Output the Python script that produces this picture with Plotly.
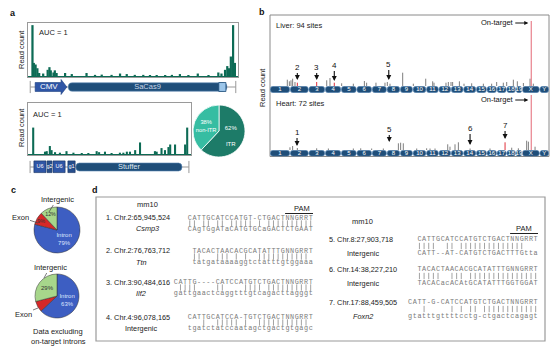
import plotly.graph_objects as go

W, H = 554, 352
SANS = "Liberation Sans"
MONO = "Liberation Mono"
GREEN = "#0d6b55"
NAVY = "#1f4e79"
ROYAL = "#2f56a6"

def fx(px): return px / W
def fy(py): return 1 - py / H

# ---------------- Panel a data (vector position in kb, normalised read count) ----------------
a1_pos = [0.10,0.13,0.17,0.21,0.25,0.34,0.44,0.48,0.51,0.57,0.60,0.64,0.83,0.98,1.31,1.50,1.65,1.87,2.06,2.21,
          2.39,2.58,2.73,2.88,3.07,3.22,3.40,3.59,3.80,4.04,4.26,4.33,4.41,4.46,4.50,4.54,4.59,4.63]
a1_cnt = [96,25,22,15,6,5,12,17,11,7,11,6,6,4,6,2.5,3,2.5,5,4,
          2.5,2.5,2,2,2,2.5,4,2,5,2,7,5,12,19,15,37,96,25]
a2_pos = [0.15,0.49,0.54,0.63,0.68,0.78,0.92,1.11,1.31,1.55,1.74,1.98,2.05,2.22,2.41,2.65,2.75,2.85,2.94,3.09,
          3.23,3.66,3.71,3.85,3.95,4.05,4.10,4.24,4.53,4.59]
a2_cnt = [52,5,6,16,8,4,3,6,3,2,1,6,4,5,2,3,3,5,5,8,23,6,5,12,8,14,19,19,19,52]

a1_feat_names = ["CMV", "SaCas9"]
a1_feat_start = [0.16, 0.90]
a1_feat_end = [0.87, 4.45]
a1_nls = [4.27, 4.43]
a1_span = [0.05, 4.65]
a2_feat_names = ["U6", "g2", "U6", "g1", "Stuffer"]
a2_feat_start = [0.17, 0.55, 0.72, 1.15, 1.38]
a2_feat_end = [0.52, 0.69, 1.07, 1.36, 4.44]
a2_span = [0.06, 4.64]

itr_labels = ["ITR", "non-ITR"]
itr_values = [62, 38]

# ---------------- Panel b data (mm10, Mb) ----------------
chrom_names = ["1","2","3","4","5","6","7","8","9","10","11","12","13","14","15","16","17","18","19","X","Y"]
chrom_len = [195.5,182.1,160.0,156.5,151.8,149.7,145.4,129.4,124.6,130.7,122.1,120.1,120.4,124.9,104.0,98.2,
             95.0,90.7,61.4,171.0,91.7]

liver_pos = [169,189,205,221,244,554,586,700,814,922,944,1035,1123,1146,1172,1296,1400,1521,1589,1602,
             1719,1742,1768,1784,1850,1895,1970,2084,2165,2214,2279,2312,2377,2416,2475,2540,2572]
liver_h = [6.3,4.7,5.7,7.3,4,5.7,8,2.7,2.3,5,3.3,3.3,3.3,4,2.3,13.3,2.3,7.3,4.7,3.3,
           3.3,4,4,4,4.7,2.3,2.7,2.3,2.3,4,3.3,4,6.3,4.7,3,7.3,2.3]
liver_red_pos = [267, 456, 628]
liver_red_h = [3.3, 4, 3.3]
heart_pos = [195,221,267,456,570,814,886,993,1107,1254,1276,1302,1433,1530,1563,1612,1736,1758,1807,1840,
             1954,2149,2361,2426,2507,2524,2589]
heart_h = [2.7,4,2,1.7,1.5,1.5,1.7,1.5,1.5,6.7,7.3,6.7,1.5,1.7,1.5,1.5,5.7,3.3,5.7,7.7,
           1.5,1.5,2.3,1.7,9.3,8.3,3.3]
heart_red_pos = [2296]
heart_red_h = [7.7]
on_target_pos = 2552
liver_on_h = 65
heart_on_h = 55

liver_site_lab = ["2", "3", "4", "5"]
liver_site_pos = [267, 456, 628, 1160]
liver_site_tip = [6, 6, 5, 6]
heart_site_lab = ["1", "5", "6", "7"]
heart_site_pos = [264, 1165, 1954, 2296]
heart_site_tip = [4, 8, 5, 11]

# ---------------- Panel c data ----------------
region_labels = ["Intron", "Exon", "Intergenic"]
c1_values = [79, 9, 12]
c2_values = [63, 8, 29]

# ---------------- Panel d data ----------------
left_sites = ["1. Chr.2:65,945,524", "2. Chr.2:76,763,712", "3. Chr.3:90,484,616", "4. Chr.4:96,078,165"]
left_genes = ["<i>Csmp3</i>", "<i>Ttn</i>", "<i>Ilf2</i>", "Intergenic"]
left_guide = ["CATTGCATCCATGT-CTGACTNNGRRT", "TACACTAACACGCATATTTGNNGRRT",
              "CATTG----CATCCATGTCTGACTNNGRRT", "CATTGCATCCA-TGTCTGACTNNGRRT"]
left_genome = ["CAgTGgATaCATGTGCaGACTCTGAAT", "tatgataaaaggtctatttgtggaaa",
               "gattgaactcaggtttgtcagacttagggt", "tgatctatccaatagctgactgtgagc"]
right_sites = ["5. Chr.8:27,903,718", "6. Chr.14:38,227,210", "7. Chr.17:88,459,505"]
right_genes = ["Intergenic", "Intergenic", "<i>Foxn2</i>"]
right_guide = ["CATTGCATCCATGTCTGACTNNGRRT", "TACACTAACACGCATATTTGNNGRRT", "CATT-G-CATCCATGTCTGACTNNGRRT"]
right_genome = ["CATT--AT-CATGTCTGACTTTGtta", "TACACacACAtGCATATTTGGTGGAT", "gtatttgttttcctg-ctgactcagagt"]

IUPAC = {"N": "ACGT", "R": "AG"}
def matches(a, b):
    out = []
    for x, y in zip(a.upper(), b.upper()):
        out.append(x != "-" and y != "-" and y in IUPAC.get(x, x))
    return out

# ---------------- figure ----------------
fig = go.Figure()
ann = []
shapes = []

def txt(x, y, s, size=7.5, color="#222", xanchor="center", **kw):
    d = dict(x=fx(x), y=fy(y), xref="paper", yref="paper", text=s, showarrow=False,
             font=dict(family=SANS, size=size, color=color), xanchor=xanchor, yanchor="middle")
    d.update(kw)
    ann.append(d)

def pill(x0, x1, y0, y1, rx):
    ym = (y0 + y1) / 2
    return (f"M{x0+rx},{y0} L{x1-rx},{y0} Q{x1},{y0} {x1},{ym} Q{x1},{y1} {x1-rx},{y1} "
            f"L{x0+rx},{y1} Q{x0},{y1} {x0},{ym} Q{x0},{y0} {x0+rx},{y0} Z")

# ---- a: histograms
fig.add_trace(go.Bar(x=a1_pos, y=a1_cnt, width=0.05, marker=dict(color=GREEN, line=dict(width=0)),
                     xaxis="x", yaxis="y", hoverinfo="skip", showlegend=False))
fig.add_trace(go.Bar(x=a2_pos, y=a2_cnt, width=0.06, marker=dict(color=GREEN, line=dict(width=0)),
                     xaxis="x3", yaxis="y3", hoverinfo="skip", showlegend=False))

# ---- a: vector maps
def backbone(xr, yr, span):
    shapes.append(dict(type="line", xref=xr, yref=yr, x0=span[0], x1=span[1], y0=0.5, y1=0.5,
                       line=dict(color="#999", width=1), layer="below"))
    for s in span:
        shapes.append(dict(type="line", xref=xr, yref=yr, x0=s, x1=s, y0=0.12, y1=0.88,
                           line=dict(color="#999", width=1), layer="below"))

backbone("x2", "y2", a1_span)
cs, ce = a1_feat_start[0], a1_feat_end[0]
head = 0.13
shapes.append(dict(type="path", xref="x2", yref="y2", layer="below",
                   path=f"M{cs},0.22 L{ce-head},0.22 L{ce-head},0.03 L{ce},0.5 L{ce-head},0.97 L{ce-head},0.78 L{cs},0.78 Z",
                   fillcolor=ROYAL, line=dict(color="#1d3f80", width=0.6)))
shapes.append(dict(type="path", xref="x2", yref="y2", layer="below",
                   path=pill(a1_feat_start[1], a1_feat_end[1], 0.24, 0.76, 0.09),
                   fillcolor=NAVY, line=dict(color="#5b86b3", width=0.6)))
shapes.append(dict(type="rect", xref="x2", yref="y2", layer="below", x0=a1_nls[0], x1=a1_nls[1],
                   y0=0.22, y1=0.78, fillcolor="#9cc6ea", line=dict(color=NAVY, width=0.8)))
fig.add_trace(go.Scatter(x=[(s + e) / 2 - (0.05 if i == 0 else 0) for i, (s, e) in enumerate(zip(a1_feat_start, a1_feat_end))],
                         y=[0.5, 0.5], mode="text", text=a1_feat_names,
                         textfont=dict(family=SANS, size=[8, 7.5], color=["white", "#c9d6e8"]),
                         xaxis="x2", yaxis="y2", hoverinfo="skip", showlegend=False))

backbone("x4", "y4", a2_span)
for i, (s, e) in enumerate(zip(a2_feat_start, a2_feat_end)):
    if a2_feat_names[i] == "Stuffer":
        shapes.append(dict(type="path", xref="x4", yref="y4", layer="below",
                           path=pill(s, e, 0.25, 0.75, 0.1), fillcolor=NAVY,
                           line=dict(color="#5b86b3", width=0.6)))
    else:
        col = ROYAL if a2_feat_names[i] == "U6" else "#274e8c"
        shapes.append(dict(type="rect", xref="x4", yref="y4", layer="below", x0=s, x1=e, y0=0.15, y1=0.88,
                           fillcolor=col, line=dict(color="#16315e", width=0.6)))
fig.add_trace(go.Scatter(x=[(s + e) / 2 for s, e in zip(a2_feat_start, a2_feat_end)],
                         y=[0.5] * len(a2_feat_names), mode="text", text=a2_feat_names,
                         textfont=dict(family=SANS, size=[5.5, 5.5, 5.5, 5.5, 7.5],
                                       color=["white"] * 4 + ["#dfe7f2"]),
                         xaxis="x4", yaxis="y4", hoverinfo="skip", showlegend=False))

# ---- a: ITR pie
fig.add_trace(go.Pie(labels=itr_labels, values=itr_values, sort=False, direction="clockwise", rotation=0,
                     marker=dict(colors=["#1d7b68", "#36bda2"], line=dict(color="white", width=0.8)),
                     text=["62%<br><br>ITR", "38%<br>non-ITR"], textinfo="text", textposition="inside",
                     insidetextorientation="horizontal",
                     textfont=dict(family=SANS, size=6, color="white"),
                     domain=dict(x=[fx(193), fx(245)], y=[fy(157), fy(105)]),
                     hoverinfo="skip", showlegend=False))

# ---- b: genome-wide read counts
starts = []
acc = 0
for L in chrom_len:
    starts.append(acc)
    acc += L
genome_total = acc
centers = [s + L / 2 for s, L in zip(starts, chrom_len)]

def spikes(pos, h, xr, yr, color, width):
    xs, ys = [], []
    for p, v in zip(pos, h):
        xs += [p, p, None]
        ys += [0, v, None]
    fig.add_trace(go.Scatter(x=xs, y=ys, mode="lines", line=dict(color=color, width=width),
                             xaxis=xr, yaxis=yr, hoverinfo="skip", showlegend=False))

spikes(liver_pos, liver_h, "x5", "y5", "#6f6f6f", 0.9)
spikes(liver_red_pos, liver_red_h, "x5", "y5", "#e0303a", 1)
spikes([on_target_pos], [liver_on_h], "x5", "y5", "#e8808c", 1.2)
spikes(heart_pos, heart_h, "x6", "y6", "#6f6f6f", 0.9)
spikes(heart_red_pos, heart_red_h, "x6", "y6", "#e0303a", 1)
spikes([on_target_pos], [heart_on_h], "x6", "y6", "#e8808c", 1.2)

for xr, yr in (("x7", "y7"), ("x8", "y8")):
    for s, L in zip(starts, chrom_len):
        shapes.append(dict(type="path", xref=xr, yref=yr, layer="below",
                           path=pill(s + 2.5, s + L - 2.5, 0.04, 0.96, min(28, L / 3)),
                           fillcolor=NAVY, line=dict(color="#6d98c4", width=0.6)))
    fig.add_trace(go.Scatter(x=centers, y=[0.5] * len(centers), mode="text", text=chrom_names,
                             textfont=dict(family=SANS, size=6, color="white"),
                             xaxis=xr, yaxis=yr, hoverinfo="skip", showlegend=False))

ay_liver = [-13, -13, -16, -16]
ay_heart = [-14, -13, -17, -14]
for lab, p, t, ay in zip(liver_site_lab, liver_site_pos, liver_site_tip, ay_liver):
    ann.append(dict(x=p, y=t, xref="x5", yref="y5", text=lab, showarrow=True, arrowhead=2, arrowsize=0.9,
                    arrowwidth=1.1, arrowcolor="#111", ax=0, ay=ay, font=dict(family=SANS, size=8, color="#111")))
for lab, p, t, ay in zip(heart_site_lab, heart_site_pos, heart_site_tip, ay_heart):
    ann.append(dict(x=p, y=t, xref="x6", yref="y6", text=lab, showarrow=True, arrowhead=2, arrowsize=0.9,
                    arrowwidth=1.1, arrowcolor="#111", ax=0, ay=ay, font=dict(family=SANS, size=8, color="#111")))
ann.append(dict(x=on_target_pos, y=63, xref="x5", yref="y5", text="On-target", showarrow=True, arrowhead=2,
                arrowsize=0.8, arrowwidth=1, arrowcolor="#111", ax=-34, ay=0, standoff=3,
                font=dict(family=SANS, size=7.5, color="#111")))
ann.append(dict(x=on_target_pos, y=50, xref="x6", yref="y6", text="On-target", showarrow=True, arrowhead=2,
                arrowsize=0.8, arrowwidth=1, arrowcolor="#111", ax=-34, ay=0, standoff=3,
                font=dict(family=SANS, size=7.5, color="#111")))

shapes.append(dict(type="rect", xref="paper", yref="paper", x0=fx(270), x1=fx(549), y0=fy(156.5), y1=fy(15),
                   line=dict(color="#8a8a8a", width=1), layer="below"))
txt(274, 26, "Liver: 94 sites", size=7.5, xanchor="left")
txt(274, 103, "Heart: 72 sites", size=7.5, xanchor="left")
txt(262, 88, "Read count", size=7.5, textangle=-90)

# ---- c: pies
pie_colors = ["#3d5ec2", "#d62828", "#a7d68b"]
fig.add_trace(go.Pie(labels=region_labels, values=c1_values, sort=False, direction="clockwise", rotation=0,
                     marker=dict(colors=pie_colors, line=dict(color="#333", width=0.5)),
                     text=["Intron<br>79%", "9%", "12%"], textinfo="text", textposition="inside",
                     insidetextorientation="horizontal",
                     textfont=dict(family=SANS, size=6, color=["#dfe6ff", "#333", "#333"]),
                     domain=dict(x=[fx(34), fx(80)], y=[fy(253), fy(207)]),
                     hoverinfo="skip", showlegend=False))
fig.add_trace(go.Pie(labels=region_labels, values=c2_values, sort=False, direction="clockwise", rotation=0,
                     marker=dict(colors=pie_colors, line=dict(color="#333", width=0.5)),
                     text=["Intron<br>63%", "", "29%"], textinfo="text", textposition="inside",
                     insidetextorientation="horizontal",
                     textfont=dict(family=SANS, size=6, color=["#dfe6ff", "#333", "#333"]),
                     domain=dict(x=[fx(35), fx(79)], y=[fy(318), fy(274)]),
                     hoverinfo="skip", showlegend=False))

def leader(tipx, tipy, s, ax, ay):
    ann.append(dict(x=fx(tipx), y=fy(tipy), xref="paper", yref="paper", text=s, showarrow=True,
                    arrowhead=0, arrowwidth=0.7, arrowcolor="#444", ax=ax, ay=ay,
                    font=dict(family=SANS, size=7.5, color="#222")))

leader(49, 212, "Intergenic", 8, -13)
leader(38, 223, "Exon", -18, -6)
leader(44, 278, "Intergenic", 6, -11)
leader(38, 308, "Exon", -15, 6)
txt(58, 331, "Data excluding", size=7.5)
txt(58, 341, "on-target introns", size=7.5)

# ---- d: off-target alignments
shapes.append(dict(type="rect", xref="paper", yref="paper", x0=fx(96), x1=fx(545), y0=fy(341), y1=fy(197),
                   line=dict(color="#9a9a9a", width=1.2), layer="below"))
txt(147, 204, "mm10", size=7.5)
txt(362, 221, "mm10", size=7.5)

CW = 4.65
seq_x, seq_y, seq_c = [], [], []
bar_x, bar_y = [], []

def block(right, y_top, gap, guide, genome):
    n = len(guide)
    for i, (a, b) in enumerate(zip(guide, genome)):
        xc = right - (n - i - 0.5) * CW
        seq_x.extend([xc, xc]); seq_y.extend([y_top, y_top + 2 * gap]); seq_c.extend([a, b])
    for i, m in enumerate(matches(guide, genome)):
        if m:
            bar_x.append(right - (n - i - 0.5) * CW)
            bar_y.append(y_top + gap)

left_rows = [218, 251, 282, 317]
left_gene_y = [229, 262, 293, 328]
for k in range(4):
    txt(104, left_rows[k], left_sites[k], size=7.3, xanchor="left")
    txt(141 if k else 147, left_gene_y[k], left_genes[k], size=7.3)
    block(313, left_rows[k], 5.5, left_guide[k], left_genome[k])
right_rows = [239, 269, 302]
for k in range(3):
    txt(327, right_rows[k], right_sites[k], size=7.3, xanchor="left")
    txt(363, right_rows[k] + 14, right_genes[k], size=7.3)
    block(538, right_rows[k], 7, right_guide[k], right_genome[k])

txt(302, 208, "PAM", size=7.5)
txt(524, 228, "PAM", size=7.5)
shapes.append(dict(type="line", xref="paper", yref="paper", x0=fx(313 - 6 * CW), x1=fx(313), y0=fy(213.5), y1=fy(213.5),
                   line=dict(color="#222", width=1)))
shapes.append(dict(type="line", xref="paper", yref="paper", x0=fx(538 - 6 * CW), x1=fx(538), y0=fy(233.5), y1=fy(233.5),
                   line=dict(color="#222", width=1)))

fig.add_trace(go.Scatter(x=seq_x, y=seq_y, mode="text", text=seq_c,
                         textfont=dict(family=MONO, size=6.8, color="#7a7a7a"),
                         xaxis="x9", yaxis="y9", hoverinfo="skip", showlegend=False))
fig.add_trace(go.Scatter(x=bar_x, y=bar_y, mode="markers",
                         marker=dict(symbol="line-ns", size=4.5, line=dict(color="#8a8a8a", width=0.8)),
                         xaxis="x9", yaxis="y9", hoverinfo="skip", showlegend=False))

# ---- panel letters and a labels
txt(13, 13, "<b>a</b>", size=9, color="#111")
txt(262, 12, "<b>b</b>", size=9, color="#111")
txt(13, 190, "<b>c</b>", size=9, color="#111")
txt(95, 190, "<b>d</b>", size=9, color="#111")
txt(37, 32, "AUC = 1", size=7.5, xanchor="left")
txt(31, 114, "AUC = 1", size=7.5, xanchor="left")
txt(21, 50, "Read count", size=7.5, textangle=-90)
txt(21, 128, "Read count", size=7.5, textangle=-90)

# ---------------- axes ----------------
def hid(domain, rng, anchor):
    return dict(domain=domain, range=rng, anchor=anchor, visible=False, showgrid=False, zeroline=False,
                fixedrange=True)

def framed_x(domain, anchor):
    return dict(domain=domain, range=[0, 4.7], anchor=anchor, showline=True, mirror=True, linecolor="#9a9a9a",
                linewidth=1, showticklabels=False, ticks="", showgrid=False, zeroline=False)

def framed_y(domain, anchor):
    return dict(domain=domain, range=[-1.5, 100], anchor=anchor, showline=True, mirror=True, linecolor="#9a9a9a",
                linewidth=1, showticklabels=False, ticks="", showgrid=False, zeroline=True,
                zerolinecolor=GREEN, zerolinewidth=1)

bx = [fx(270), fx(549)]
fig.update_layout(
    width=W, height=H, margin=dict(l=0, r=0, t=0, b=0),
    paper_bgcolor="white", plot_bgcolor="rgba(0,0,0,0)",
    font=dict(family=SANS, size=8, color="#222"),
    showlegend=False, barmode="overlay",
    xaxis=framed_x([fx(28), fx(238)], "y"),
    yaxis=framed_y([fy(77), fy(23)], "x"),
    xaxis2=hid([fx(28), fx(238)], [0, 4.7], "y2"),
    yaxis2=hid([fy(95), fy(79)], [0, 1], "x2"),
    xaxis3=framed_x([fx(28), fx(191)], "y3"),
    yaxis3=framed_y([fy(155), fy(103)], "x3"),
    xaxis4=hid([fx(28), fx(191)], [0, 4.7], "y4"),
    yaxis4=hid([fy(175), fy(159)], [0, 1], "x4"),
    xaxis5=hid(bx, [0, genome_total], "y5"),
    yaxis5=hid([fy(86), fy(19)], [0, 67], "x5"),
    xaxis6=hid(bx, [0, genome_total], "y6"),
    yaxis6=hid([fy(150), fy(93)], [0, 57], "x6"),
    xaxis7=hid(bx, [0, genome_total], "y7"),
    yaxis7=hid([fy(93), fy(86)], [0, 1], "x7"),
    xaxis8=hid(bx, [0, genome_total], "y8"),
    yaxis8=hid([fy(156.5), fy(150)], [0, 1], "x8"),
    xaxis9=hid([0, 1], [0, W], "y9"),
    yaxis9=hid([0, 1], [H, 0], "x9"),
    annotations=ann, shapes=shapes,
)

fig.write_html("out.html")
